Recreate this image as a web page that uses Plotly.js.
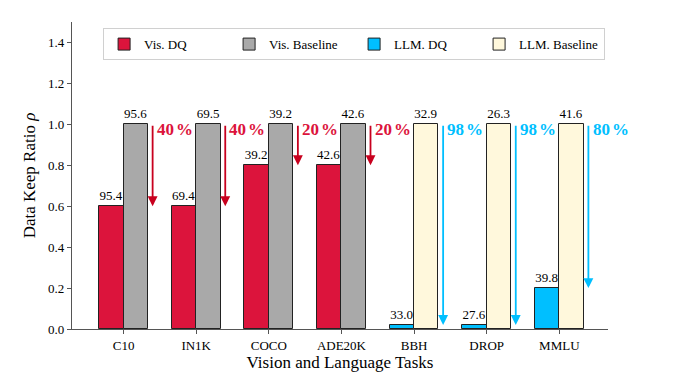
<!DOCTYPE html>
<html>
<head>
<meta charset="utf-8">
<script src="https://cdn.plot.ly/plotly-3.0.1.min.js"></script>
<style>html,body{margin:0;padding:0;background:#fff;}#chart{width:680px;height:384px;}</style>
</head>
<body>
<div id="chart"></div>
<script>
// ---- data ----
const visTasks = ["C10", "IN1K", "COCO", "ADE20K"];
const llmTasks = ["BBH", "DROP", "MMLU"];
const allTasks = visTasks.concat(llmTasks);

const visDQRatio = [0.6, 0.6, 0.8, 0.8];
const visBaseRatio = [1.0, 1.0, 1.0, 1.0];
const llmDQRatio = [0.02, 0.02, 0.2];
const llmBaseRatio = [1.0, 1.0, 1.0];

const visDQScore = [95.4, 69.4, 39.2, 42.6];
const visBaseScore = [95.6, 69.5, 39.2, 42.6];
const llmDQScore = [33.0, 27.6, 39.8];
const llmBaseScore = [32.9, 26.3, 41.6];

const visSaving = [40, 40, 20, 20];
const llmSaving = [98, 98, 80];

const seriesNames = ["Vis. DQ", "Vis. Baseline", "LLM. DQ", "LLM. Baseline"];
const yTicks = [0.0, 0.2, 0.4, 0.6, 0.8, 1.0, 1.2, 1.4];

// ---- style ----
const FONT = "Liberation Serif";
const BW = 0.335;
const colors = {visDQ: "#DC143C", visBase: "#A9A9A9", llmDQ: "#00BFFF", llmBase: "#FFF8DC"};
const arrowVis = "#C8001E", textVis = "#DC143C";
const arrowLlm = "#00BFFF", textLlm = "#00BFFF";

function barTrace(name, xs, ys, labels, color, offset) {
  return {
    type: "bar", name: name, x: xs, y: ys,
    offset: offset, width: BW,
    marker: {color: color, line: {color: "#222", width: 1}},
    text: labels.map(v => v.toFixed(1)),
    textposition: "outside", constraintext: "none", cliponaxis: false,
    textfont: {family: FONT, size: 13, color: "#000"},
    hoverinfo: "skip"
  };
}

const traces = [
  barTrace(seriesNames[0], visTasks, visDQRatio, visDQScore, colors.visDQ, -BW),
  barTrace(seriesNames[1], visTasks, visBaseRatio, visBaseScore, colors.visBase, 0),
  barTrace(seriesNames[2], llmTasks, llmDQRatio, llmDQScore, colors.llmDQ, -BW),
  barTrace(seriesNames[3], llmTasks, llmBaseRatio, llmBaseScore, colors.llmBase, 0)
];

const annotations = [];
function addArrows(tasks, dq, base, saving, aCol, tCol) {
  tasks.forEach((t, i) => {
    const idx = allTasks.indexOf(t);
    annotations.push({
      x: idx + 0.4, y: dq[i], ax: idx + 0.4, ay: base[i],
      xref: "x", yref: "y", axref: "x", ayref: "y",
      text: "", showarrow: true, arrowhead: 2, arrowsize: 1.1, arrowwidth: 1.8,
      arrowcolor: aCol, standoff: 0, startstandoff: 0
    });
    annotations.push({
      x: idx + 0.43, y: base[i], xref: "x", yref: "y",
      text: "<b>" + saving[i] + "<span style='font-size:8px'> </span>%</b>", showarrow: false,
      xanchor: "left", yanchor: "middle", yshift: -5,
      font: {family: FONT, size: 17, color: tCol}
    });
  });
}
addArrows(visTasks, visDQRatio, visBaseRatio, visSaving, arrowVis, textVis);
addArrows(llmTasks, llmDQRatio, llmBaseRatio, llmSaving, arrowLlm, textLlm);

const axisCol = "#555555";
const layout = {
  width: 680, height: 384,
  margin: {l: 72, r: 72, t: 22, b: 55},
  paper_bgcolor: "#fff", plot_bgcolor: "#fff",
  font: {family: FONT, size: 13, color: "#000"},
  barmode: "overlay",
  bargap: 0,
  xaxis: {
    type: "category", categoryorder: "array", categoryarray: allTasks,
    range: [-0.71, 6.67],
    showline: true, linecolor: axisCol, linewidth: 1.3,
    ticks: "outside", ticklen: 4, tickcolor: axisCol, tickwidth: 1,
    showgrid: false, zeroline: false,
    tickfont: {family: FONT, size: 13, color: "#000"},
    title: {text: "Vision and Language Tasks", font: {family: FONT, size: 17, color: "#000"}, standoff: 4}
  },
  yaxis: {
    range: [0, 1.5],
    tickvals: yTicks, ticktext: yTicks.map(v => v.toFixed(1)),
    showline: true, linecolor: axisCol, linewidth: 1.3,
    ticks: "outside", ticklen: 4, tickcolor: axisCol, tickwidth: 1,
    showgrid: false, zeroline: false,
    tickfont: {family: FONT, size: 13, color: "#000"},
    title: {text: "Data Keep Ratio <i>ρ</i>", font: {family: FONT, size: 17, color: "#000"}, standoff: 8}
  },
  showlegend: true,
  legend: {
    orientation: "h", x: 0.058, y: 0.98, xanchor: "left", yanchor: "top",
    bgcolor: "#fff", bordercolor: "#d0d0d0", borderwidth: 1,
    font: {family: FONT, size: 13, color: "#000"},
    entrywidth: 80, entrywidthmode: "pixels",
    traceorder: "normal"
  },
  annotations: annotations
};

Plotly.newPlot("chart", traces, layout, {displayModeBar: false});
</script>
</body>
</html>
